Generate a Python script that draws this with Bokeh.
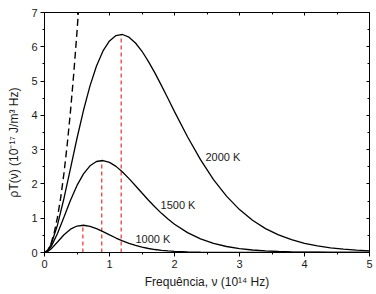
from bokeh.plotting import figure
from bokeh.models import LinearAxis, SingleIntervalTicker, Range1d
from bokeh.core.properties import value
from bokeh.embed import file_html
from bokeh.resources import INLINE

# frequency grid (10^14 Hz)
nu = [0, 0.05, 0.1, 0.2, 0.3, 0.4, 0.5, 0.6, 0.7, 0.8, 0.9, 1.0, 1.1, 1.2, 1.3, 1.4,
      1.5, 1.6, 1.7, 1.8, 1.9, 2.0, 2.2, 2.4, 2.6, 2.8, 3.0, 3.2, 3.4, 3.6, 3.8, 4.0,
      4.2, 4.4, 4.6, 4.8, 5.0]
# spectral energy density (10^-17 J/m^3 Hz)
rho_2000 = [0, 0.061, 0.228, 0.803, 1.583, 2.456, 3.332, 4.148, 4.860, 5.441, 5.878,
            6.172, 6.328, 6.359, 6.281, 6.111, 5.869, 5.569, 5.231, 4.867, 4.490, 4.110,
            3.376, 2.708, 2.128, 1.644, 1.251, 0.939, 0.697, 0.512, 0.373, 0.269, 0.193,
            0.137, 0.097, 0.068, 0.048]
rho_1500 = [0, 0.045, 0.164, 0.552, 1.036, 1.524, 1.956, 2.295, 2.528, 2.654, 2.683,
            2.630, 2.512, 2.350, 2.156, 1.948, 1.734, 1.525, 1.326, 1.142, 0.974, 0.825,
            0.579, 0.396, 0.266, 0.175, 0.114, 0.073, 0.046, 0.029, 0.018, 0.011, 0.007,
            0.004, 0.0025, 0.0015, 0.0009]
rho_1000 = [0, 0.029, 0.100, 0.307, 0.518, 0.680, 0.772, 0.795, 0.764, 0.696, 0.608,
            0.514, 0.422, 0.338, 0.266, 0.205, 0.156, 0.117, 0.087, 0.064, 0.047, 0.034,
            0.017, 0.0085, 0.0042, 0.002, 0.0009, 0.0004, 0.0002, 0.0001, 0.0, 0.0, 0.0,
            0.0, 0.0, 0.0, 0.0]
# Rayleigh-Jeans (dashed)
rj_nu = [0, 0.05, 0.1, 0.15, 0.2, 0.25, 0.3, 0.35, 0.4, 0.45, 0.5, 0.55]
rj_rho = [0, 0.064, 0.258, 0.580, 1.030, 1.610, 2.318, 3.156, 4.122, 5.216, 6.440, 7.790]
# peaks (red dashed verticals)
peak_nu = [0.59, 0.88, 1.18]
peak_base = [0, 0, 0]
peak_rho = [0.80, 2.68, 6.36]
# curve labels
label_text = ["1000 K", "1500 K", "2000 K"]
label_nu = [1.40, 1.785, 2.477]
label_rho = [0.38, 1.40, 2.80]

FONT = "Liberation Sans"
TXT = "#1a1a1a"

p = figure(width=376, height=294, x_range=Range1d(0, 5), y_range=Range1d(0, 7),
           output_backend="svg", toolbar_location=None,
           min_border_left=44, min_border_right=7, min_border_top=12, min_border_bottom=42)
p.xgrid.visible = False
p.ygrid.visible = False
p.outline_line_color = "black"
p.outline_line_width = 1
p.background_fill_color = "white"
p.border_fill_color = "white"

p.line(rj_nu, rj_rho, line_color="black", line_width=1.4, line_dash="7 4")
p.segment(x0=peak_nu, y0=peak_base, x1=peak_nu, y1=peak_rho,
          line_color="#e8504a", line_width=1.4, line_dash="4 3")
for r in (rho_1000, rho_1500, rho_2000):
    p.line(nu, r, line_color="black", line_width=1.3)

p.text(x=label_nu, y=label_rho, text=label_text, text_font=value(FONT),
       text_font_size="11px", text_align="left", text_baseline="middle", text_color=TXT)


def style_main(ax):
    ax.ticker = SingleIntervalTicker(interval=1, num_minor_ticks=2)
    ax.axis_line_color = "black"
    ax.major_tick_line_color = "black"
    ax.minor_tick_line_color = "black"
    ax.major_tick_in = 0
    ax.major_tick_out = 4
    ax.minor_tick_in = 0
    ax.minor_tick_out = 2
    ax.major_label_text_font = FONT
    ax.major_label_text_font_size = "11px"
    ax.major_label_text_color = TXT
    ax.major_label_standoff = 3
    ax.axis_label_text_font = FONT
    ax.axis_label_text_font_size = "12px"
    ax.axis_label_text_font_style = "normal"
    ax.axis_label_text_color = TXT


style_main(p.xaxis[0])
style_main(p.yaxis[0])
p.xaxis[0].axis_label = "Frequência, ν (10¹⁴ Hz)"
p.xaxis[0].axis_label_standoff = 4
p.yaxis[0].axis_label = "ρT(ν) (10⁻¹⁷ J/m³ Hz)" + "\u00a0" * 6
p.yaxis[0].axis_label_standoff = 7

for side in ("above", "right"):
    ax = LinearAxis(ticker=SingleIntervalTicker(interval=1, num_minor_ticks=2),
                    major_label_text_font_size="1px", major_label_text_color=None,
                    major_label_standoff=0,
                    major_tick_in=3, major_tick_out=0, minor_tick_in=2, minor_tick_out=0,
                    axis_line_color="black", major_tick_line_color="black",
                    minor_tick_line_color="black")
    p.add_layout(ax, side)

open("out.html", "w").write(file_html(p, INLINE))
